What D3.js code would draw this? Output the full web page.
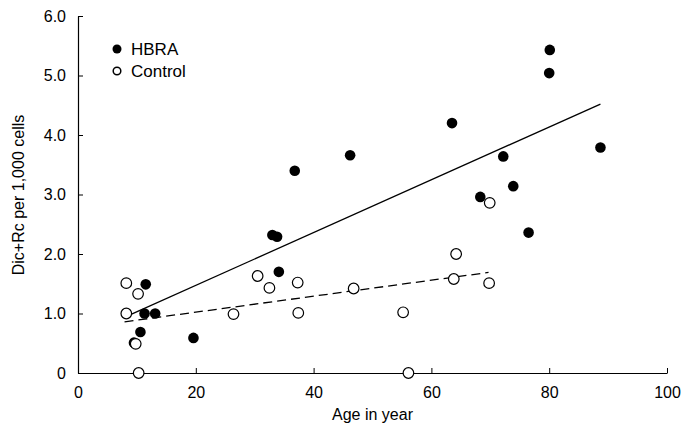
<!DOCTYPE html>
<html>
<head>
<meta charset="utf-8">
<script src="https://cdn.jsdelivr.net/npm/d3@7"></script>
<style>
  body { margin: 0; background: #fff; }
  text { font-family: "Liberation Sans", Arial, sans-serif; fill: #000; }
</style>
</head>
<body>
<div id="canvas"></div>
<script>
// HBRA (filled) points: [age, Dic+Rc per 1,000 cells]
const hbraAge = [9.5, 10.6, 11.3, 11.5, 13.1, 19.6, 33.0, 33.8, 34.1, 36.8, 46.2, 63.5, 68.3, 72.2, 73.9, 76.5, 80.0, 80.1, 88.7];
const hbraVal = [0.51, 0.69, 1.0, 1.49, 1.0, 0.59, 2.32, 2.29, 1.70, 3.40, 3.66, 4.20, 2.96, 3.64, 3.14, 2.36, 5.04, 5.43, 3.79];

// Control (open) points
const ctrlAge = [8.2, 8.2, 9.8, 10.2, 10.3, 26.4, 30.5, 32.5, 37.3, 37.4, 46.8, 55.2, 56.1, 63.8, 64.2, 69.8, 69.9];
const ctrlVal = [1.51, 1.0, 0.49, 1.33, 0.0, 0.99, 1.63, 1.43, 1.52, 1.01, 1.42, 1.02, 0.0, 1.58, 2.0, 1.51, 2.86];

// regression lines, end points [age, value]
const hbraFit = [[9.1, 0.99], [88.7, 4.52]];
const ctrlFit = [[7.9, 0.86], [69.7, 1.69]];

const xTicks = [0, 20, 40, 60, 80, 100];
const yTicks = [0, 1, 2, 3, 4, 5, 6];

const width = 684, height = 428;
const margin = {top: 16, left: 78, bottom: 55, right: 17};
const iwidth = width - margin.left - margin.right;
const iheight = height - margin.top - margin.bottom;

const svg = d3.select("#canvas").append("svg")
    .attr("width", width)
    .attr("height", height);

const g = svg.append("g").attr("transform", `translate(${margin.left},${margin.top})`);

const x = d3.scaleLinear().domain([0, 100]).range([0, iwidth]);
const y = d3.scaleLinear().domain([0, 6]).range([iheight, 0]);

// axes with inward ticks
const xAxis = g.append("g")
    .attr("transform", `translate(0,${iheight})`)
    .call(d3.axisBottom(x).tickValues(xTicks).tickSize(-5).tickPadding(14).tickSizeOuter(0));
const yAxis = g.append("g")
    .call(d3.axisLeft(y).tickValues(yTicks).tickSize(-5).tickPadding(12).tickSizeOuter(0)
        .tickFormat(d => d === 0 ? "0" : d3.format(".1f")(d)));

[xAxis, yAxis].forEach(a => {
  a.select(".domain").attr("stroke", "#000").attr("stroke-width", 1.2);
  a.selectAll(".tick line").attr("stroke", "#000").attr("stroke-width", 1);
  a.selectAll(".tick text").attr("font-size", 16).attr("font-family", "Liberation Sans, Arial, sans-serif");
});

g.append("text")
    .attr("x", x(50))
    .attr("y", iheight + 47)
    .attr("text-anchor", "middle")
    .attr("font-size", 16)
    .text("Age in year");

g.append("text")
    .attr("transform", `translate(${-54},${179}) rotate(-90)`)
    .attr("text-anchor", "middle")
    .attr("font-size", 16)
    .text("Dic+Rc per 1,000 cells");

// regression lines
const line = d3.line().x(d => x(d[0])).y(d => y(d[1]));
g.append("path").datum(hbraFit)
    .attr("d", line).attr("fill", "none").attr("stroke", "#000").attr("stroke-width", 1.3);
g.append("path").datum(ctrlFit)
    .attr("d", line).attr("fill", "none").attr("stroke", "#000").attr("stroke-width", 1.3)
    .attr("stroke-dasharray", "9,5");

// points
const r = 5.3;
g.selectAll("circle.hbra").data(d3.zip(hbraAge, hbraVal))
  .enter().append("circle")
    .attr("class", "hbra")
    .attr("cx", d => x(d[0]))
    .attr("cy", d => y(d[1]))
    .attr("r", r)
    .attr("fill", "#000");

g.selectAll("circle.ctrl").data(d3.zip(ctrlAge, ctrlVal))
  .enter().append("circle")
    .attr("class", "ctrl")
    .attr("cx", d => x(d[0]))
    .attr("cy", d => y(d[1]))
    .attr("r", r)
    .attr("fill", "#fff")
    .attr("stroke", "#000")
    .attr("stroke-width", 1.2);

// legend
const legend = svg.append("g").attr("transform", "translate(117,49)");
legend.append("circle").attr("r", 4.5).attr("fill", "#000");
legend.append("text").attr("x", 14).attr("y", 6).attr("font-size", 17).text("HBRA");
legend.append("circle").attr("cy", 22).attr("r", 3.8).attr("fill", "#fff").attr("stroke", "#000").attr("stroke-width", 1.5);
legend.append("text").attr("x", 14).attr("y", 28).attr("font-size", 17).text("Control");
</script>
</body>
</html>
